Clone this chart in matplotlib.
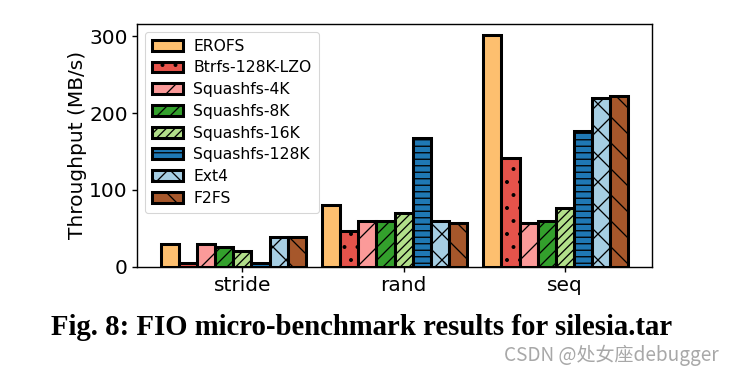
import matplotlib
matplotlib.use("Agg")
import matplotlib.pyplot as plt
import numpy as np

DPI = 78
plt.rcParams['hatch.linewidth'] = 1.2
plt.rcParams['axes.linewidth'] = 1.3

categories = ["stride", "rand", "seq"]
series = ["EROFS", "Btrfs-128K-LZO", "Squashfs-4K", "Squashfs-8K",
          "Squashfs-16K", "Squashfs-128K", "Ext4", "F2FS"]
erofs = [30, 80, 301]
btrfs = [5, 46, 142]
sq4k = [29, 59, 57]
sq8k = [25, 60, 60]
sq16k = [20, 70, 76]
sq128k = [5, 167, 177]
ext4 = [38, 60, 220]
f2fs = [39, 57, 222]
values = [erofs, btrfs, sq4k, sq8k, sq16k, sq128k, ext4, f2fs]
colors = ["#fdbf6f", "#e5534b", "#fb9a99", "#33a02c", "#b2df8a", "#1f78b4", "#a6cee3", "#a6572b"]
hatches = ["", ".", "/", "//", "///", "--", "x", "\\"]

fig = plt.figure(figsize=(734 / DPI, 374 / DPI), dpi=DPI)
ax = fig.add_axes([0.187, 0.287, 0.701, 0.649])

x = np.arange(len(categories))
w = 0.1125
for i, (name, vals) in enumerate(zip(series, values)):
    ax.bar(x + (i - 4) * w, vals, w, color=colors[i], edgecolor="black",
           linewidth=2.8, hatch=hatches[i], label=name)

ax.set_xticks(x)
ax.set_xticklabels(categories, fontsize=18.6)
ax.set_yticks([0, 100, 200, 300])
ax.tick_params(axis='both', labelsize=18.6, length=4.8, width=1.3, pad=4)
ax.set_ylabel("Throughput (MB/s)", fontsize=18.6, labelpad=2)
ax.legend(loc="upper left", fontsize=14.4, handlelength=2.0, labelspacing=0.43,
          borderpad=0.45, handletextpad=0.65)

fig.text(0.492, 0.123, "Fig. 8: FIO micro-benchmark results for silesia.tar",
         ha="center", va="center", fontsize=26.6, fontweight="bold",
         family="Liberation Serif")
fig.text(0.979, 0.051, "CSDN @处女座debugger", ha="right", va="center",
         fontsize=17.6, color="#a8a8a8",
         family=["Noto Sans CJK SC", "DejaVu Sans"])

fig.savefig("out.png", dpi=DPI)
